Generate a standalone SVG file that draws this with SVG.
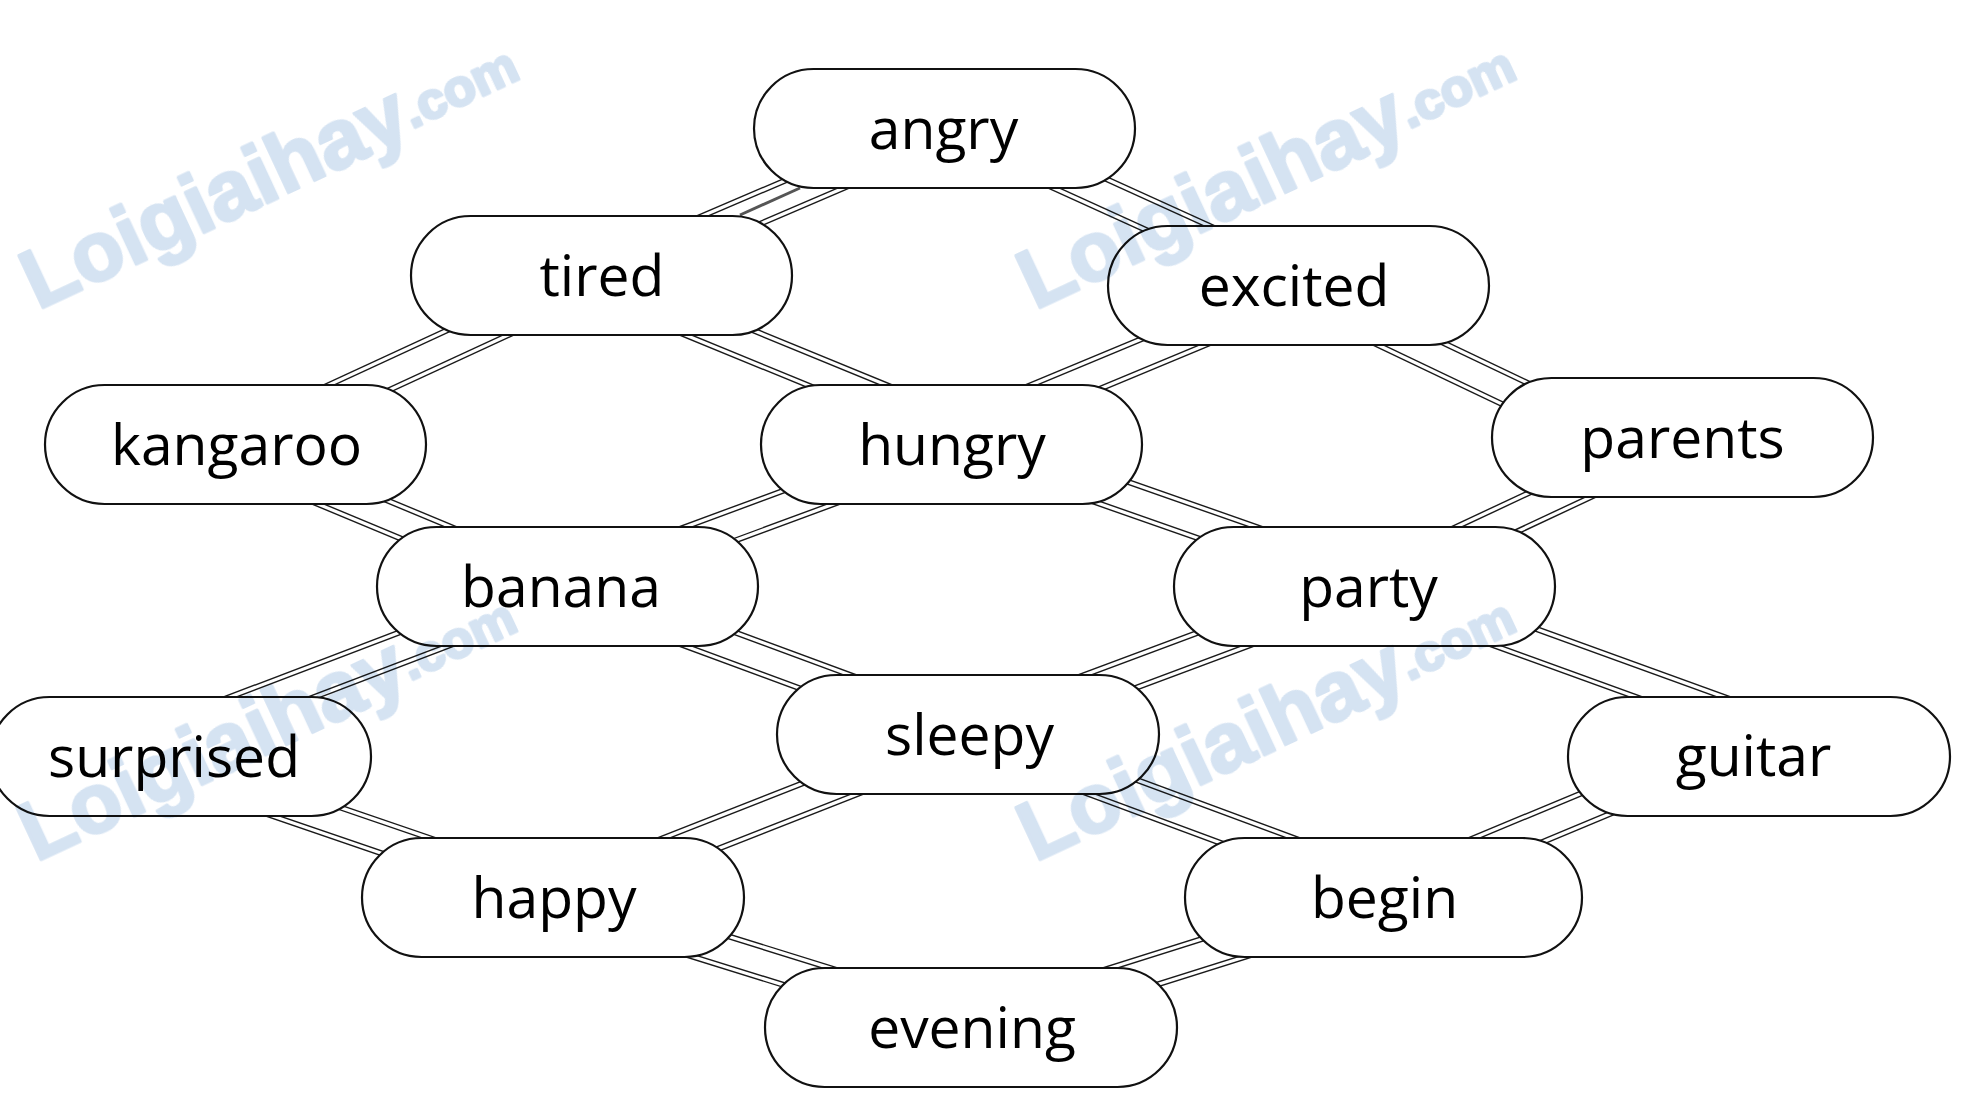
<svg xmlns="http://www.w3.org/2000/svg" xmlns:xlink="http://www.w3.org/1999/xlink" width="1966" height="1116" viewBox="0 0 1966 1116">
<style>
.node rect{fill:#fff;stroke:#111;stroke-width:2.2}
.node text{font-family:"Open Sans","Liberation Sans",sans-serif;font-size:57px;fill:#000;text-anchor:middle}
.wm{font-family:"Liberation Sans",Arial,sans-serif;font-weight:bold;font-size:84px;fill:#d5e3f2;stroke:#d5e3f2;stroke-width:3;stroke-linejoin:round}
</style>
<defs>
<g id="edges" fill="none">
<line x1="944.5" y1="128.5" x2="601.5" y2="275.5"/>
<line x1="959" y1="128.5" x2="1304.5" y2="285.5"/>
<line x1="601.5" y1="275.5" x2="235.5" y2="444.5"/>
<line x1="580" y1="275.5" x2="992" y2="444.5"/>
<line x1="1309" y1="285.5" x2="927" y2="444.5"/>
<line x1="1288" y1="285.5" x2="1607" y2="437.5"/>
<line x1="214" y1="444.5" x2="555" y2="586.5"/>
<line x1="951.5" y1="444.5" x2="567.5" y2="586.5"/>
<line x1="976" y1="444.5" x2="1381" y2="586.5"/>
<line x1="1682.5" y1="437.5" x2="1364.5" y2="586.5"/>
<line x1="562" y1="586.5" x2="116" y2="756.5"/>
<line x1="567.5" y1="586.5" x2="968" y2="734.5"/>
<line x1="1364.5" y1="586.5" x2="968" y2="734.5"/>
<line x1="1375" y1="586.5" x2="1843" y2="756"/>
<line x1="145" y1="756.5" x2="557" y2="897.5"/>
<line x1="968" y1="734.5" x2="553" y2="897.5"/>
<line x1="971" y1="734.5" x2="1411" y2="897.5"/>
<line x1="1710" y1="756" x2="1370" y2="897.5"/>
<line x1="553" y1="897.5" x2="971" y2="1027.5"/>
<line x1="1383.5" y1="897.5" x2="971" y2="1027.5"/>
</g>
</defs>
<rect width="1966" height="1116" fill="#fff"/>
<g id="connectors">
<use xlink:href="#edges" stroke="#1a1a1a" stroke-width="36"/>
<use xlink:href="#edges" stroke="#fff" stroke-width="33.2"/>
<use xlink:href="#edges" stroke="#1a1a1a" stroke-width="26.8"/>
<use xlink:href="#edges" stroke="#fff" stroke-width="24"/>
<line x1="740" y1="215" x2="800" y2="188" stroke="#555" stroke-width="3"/>
</g>
<g id="n-angry" class="node"><rect x="754" y="69" width="381" height="119" rx="59.5"/><text x="943.5" y="148.5">angry</text></g>
<g id="n-tired" class="node"><rect x="411" y="216" width="381" height="119" rx="59.5"/><text x="602" y="295.5">tired</text></g>
<g id="n-excited" class="node"><rect x="1108" y="226" width="381" height="119" rx="59.5"/><text x="1294" y="305.5">excited</text></g>
<g id="n-kangaroo" class="node"><rect x="45" y="385" width="381" height="119" rx="59.5"/><text x="236.5" y="464.5">kangaroo</text></g>
<g id="n-hungry" class="node"><rect x="761" y="385" width="381" height="119" rx="59.5"/><text x="952" y="464.5">hungry</text></g>
<g id="n-parents" class="node"><rect x="1492" y="378" width="381" height="119" rx="59.5"/><text x="1682.5" y="457.5">parents</text></g>
<g id="n-banana" class="node"><rect x="377" y="527" width="381" height="119" rx="59.5"/><text x="561" y="606.5">banana</text></g>
<g id="n-party" class="node"><rect x="1174" y="527" width="381" height="119" rx="59.5"/><text x="1368.5" y="606.5">party</text></g>
<g id="n-surprised" class="node"><rect x="-10" y="697" width="381" height="119" rx="59.5"/><text x="174" y="776.5">surprised</text></g>
<g id="n-sleepy" class="node"><rect x="777" y="675" width="382" height="119" rx="59.5"/><text x="969.5" y="754.5">sleepy</text></g>
<g id="n-guitar" class="node"><rect x="1568" y="697" width="382" height="119" rx="59.5"/><text x="1753.5" y="776">guitar</text></g>
<g id="n-happy" class="node"><rect x="362" y="838" width="382" height="119" rx="59.5"/><text x="554" y="917.5">happy</text></g>
<g id="n-begin" class="node"><rect x="1185" y="838" width="397" height="119" rx="59.5"/><text x="1384.5" y="917.5">begin</text></g>
<g id="n-evening" class="node"><rect x="765" y="968" width="412" height="119" rx="59.5"/><text x="972" y="1047.5">evening</text></g>
<g id="watermark" style="mix-blend-mode:multiply">
<text class="wm" transform="translate(38,310) rotate(-25)">Loigiaihay<tspan font-size="52" dy="-6">.com</tspan></text>
<text class="wm" transform="translate(1035,310) rotate(-25)">Loigiaihay<tspan font-size="52" dy="-6">.com</tspan></text>
<text class="wm" transform="translate(36,862) rotate(-25)">Loigiaihay<tspan font-size="52" dy="-6">.com</tspan></text>
<text class="wm" transform="translate(1035,862) rotate(-25)">Loigiaihay<tspan font-size="52" dy="-6">.com</tspan></text>
</g>
</svg>
